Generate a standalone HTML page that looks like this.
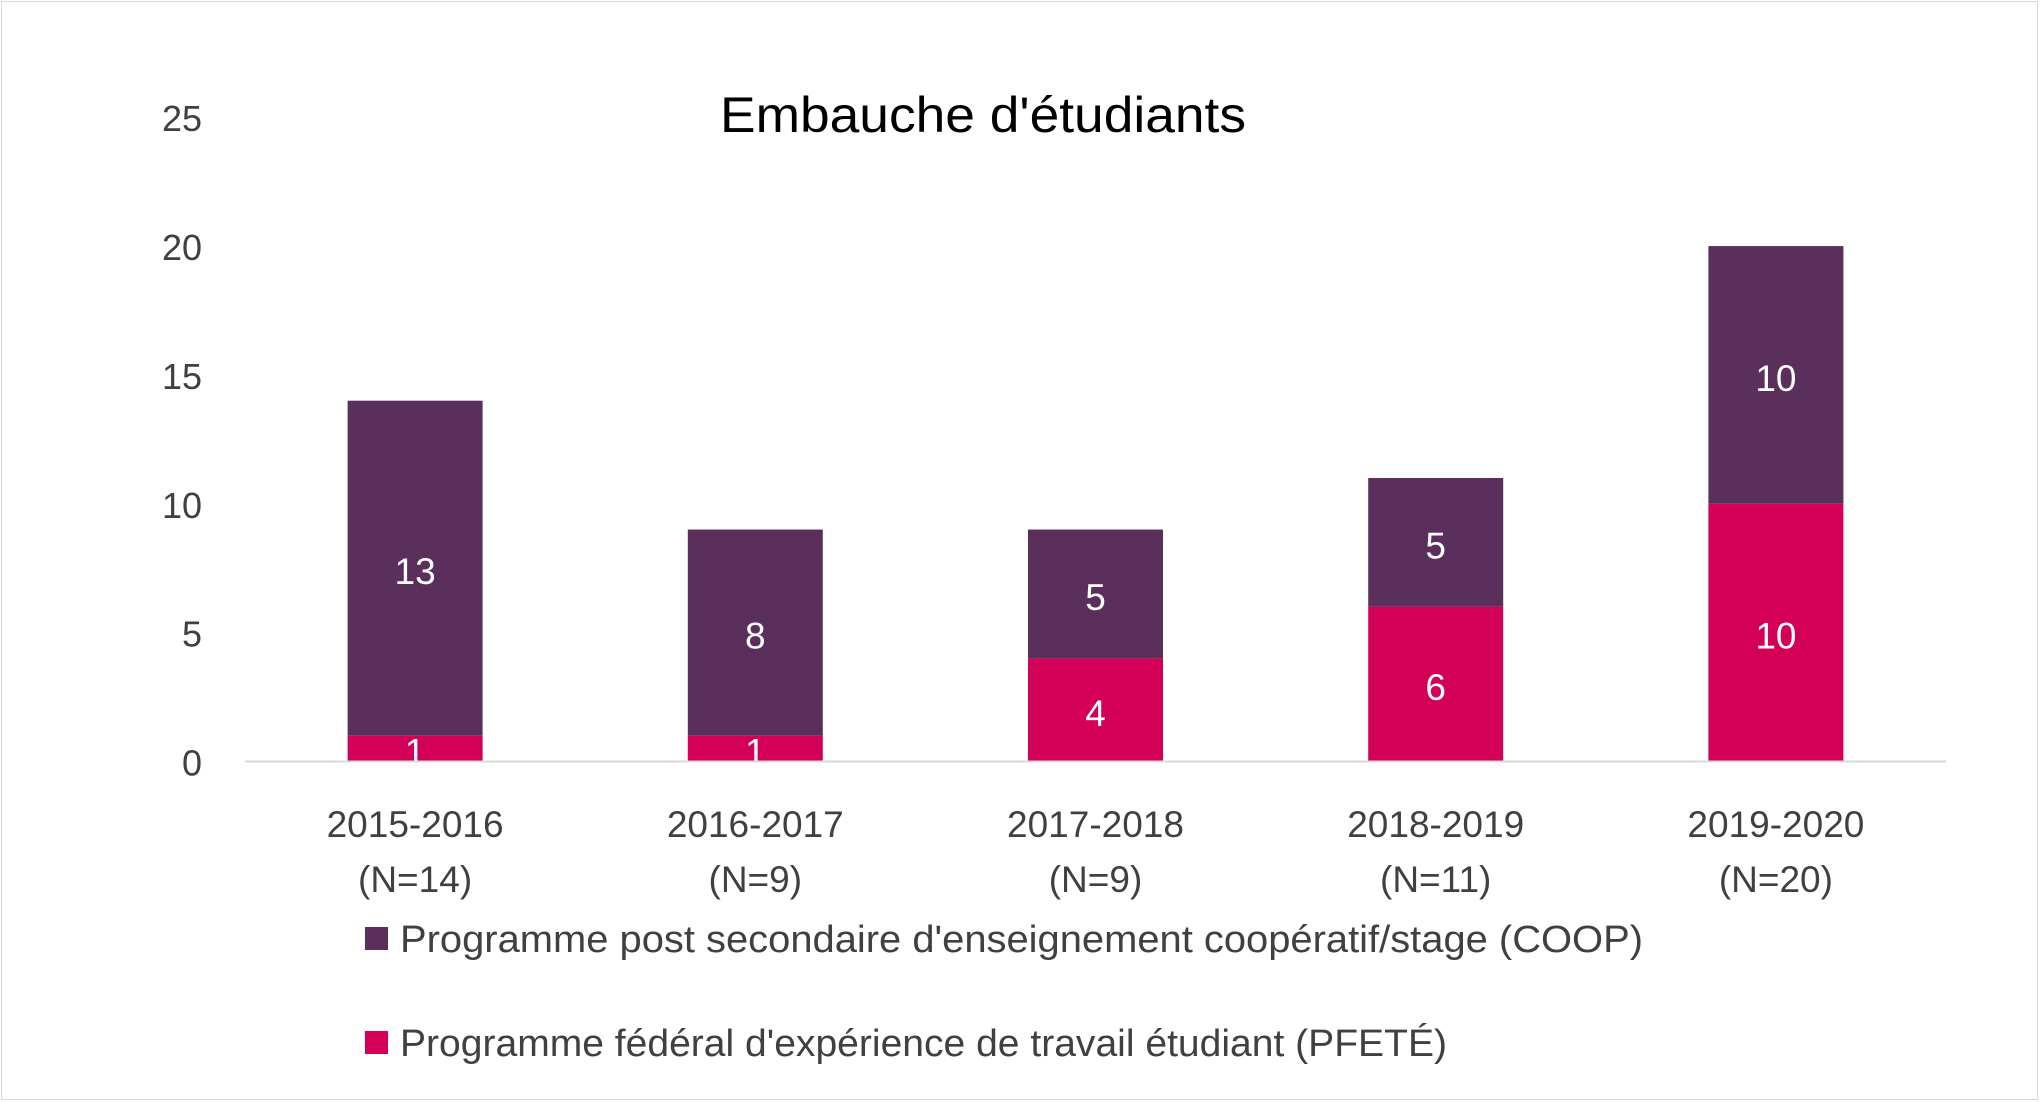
<!DOCTYPE html>
<html><head><meta charset="utf-8">
<style>
html,body{margin:0;padding:0;background:#fff;}
body{width:2041px;height:1103px;overflow:hidden;font-family:"Liberation Sans",sans-serif;}
#frame{position:absolute;left:1px;top:1px;width:2037px;height:1099px;border:1px solid #d9d9d9;box-sizing:border-box;}
</style></head>
<body>
<div id="frame"></div>
<svg id="chart" width="2041" height="1103" style="position:absolute;left:0;top:0"></svg>
<script>
const categories = ["2015-2016","2016-2017","2017-2018","2018-2019","2019-2020"];
const nLabels = ["(N=14)","(N=9)","(N=9)","(N=11)","(N=20)"];
const pfeteValues = [1,1,4,6,10];
const coopValues = [13,8,5,5,10];
const yTicks = [0,5,10,15,20,25];

const NS="http://www.w3.org/2000/svg";
const svg=document.getElementById('chart');
const plotLeft=245, plotRight=1946, y0=761.5, yTop=117.2, yMax=25;
const band=(plotRight-plotLeft)/categories.length, barW=135;
function yScale(v){return y0-(v/yMax)*(y0-yTop);}
function xCenter(i){return plotLeft+band*(i+0.5);}
function mk(tag,attrs){const e=document.createElementNS(NS,tag);for(const k in attrs)e.setAttribute(k,attrs[k]);svg.appendChild(e);return e;}
const font='"Liberation Sans", sans-serif';

let t=mk('text',{x:720,y:132,'font-size':50,fill:'#000','font-family':font,textLength:526,lengthAdjust:'spacingAndGlyphs'});
t.textContent="Embauche d'étudiants";



yTicks.forEach(v=>{
  const e=mk('text',{x:202,y:yScale(v)+14,'text-anchor':'end','font-size':36,fill:'#404040','font-family':font});
  e.textContent=v;
  
  
});

categories.forEach((c,i)=>{
  const cx=xCenter(i);
  const p=pfeteValues[i], q=coopValues[i];
  const r1=mk('rect',{x:cx-barW/2,y:yScale(p),width:barW,height:y0-yScale(p),fill:'#D40057'});
  
  
  const r2=mk('rect',{x:cx-barW/2,y:yScale(p+q),width:barW,height:yScale(p)-yScale(p+q),fill:'#5B2F5C'});
  
  
  const l1=mk('text',{x:cx,y:(y0+yScale(p))/2+16,'text-anchor':'middle','font-size':37,fill:'#fff','font-family':font});
  l1.textContent=p;
  
  
  const l2=mk('text',{x:cx,y:(yScale(p)+yScale(p+q))/2+16,'text-anchor':'middle','font-size':37,fill:'#fff','font-family':font});
  l2.textContent=q;
  
  
  const c1=mk('text',{x:cx,y:837,'text-anchor':'middle','font-size':37,fill:'#404040','font-family':font});
  c1.textContent=c;
  
  
  const c2=mk('text',{x:cx,y:892,'text-anchor':'middle','font-size':37,fill:'#404040','font-family':font});
  c2.textContent=nLabels[i];
  
  
});

const ax=mk('line',{x1:plotLeft,x2:plotRight,y1:y0,y2:y0,stroke:'#d9d9d9','stroke-width':2});



const legend=[["#5B2F5C","Programme post secondaire d'enseignement coopératif/stage (COOP)",927,1243],
              ["#D40057","Programme fédéral d'expérience de travail étudiant (PFETÉ)",1031,1047]];
legend.forEach(([col,label,y,len])=>{
  const s=mk('rect',{x:365,y:y,width:23,height:23,fill:col});
  
  
  const tx=mk('text',{x:400,y:y+25,'font-size':38,fill:'#404040','font-family':font,textLength:len,lengthAdjust:'spacingAndGlyphs'});
  tx.textContent=label;
  
  
});
</script>
</body></html>
